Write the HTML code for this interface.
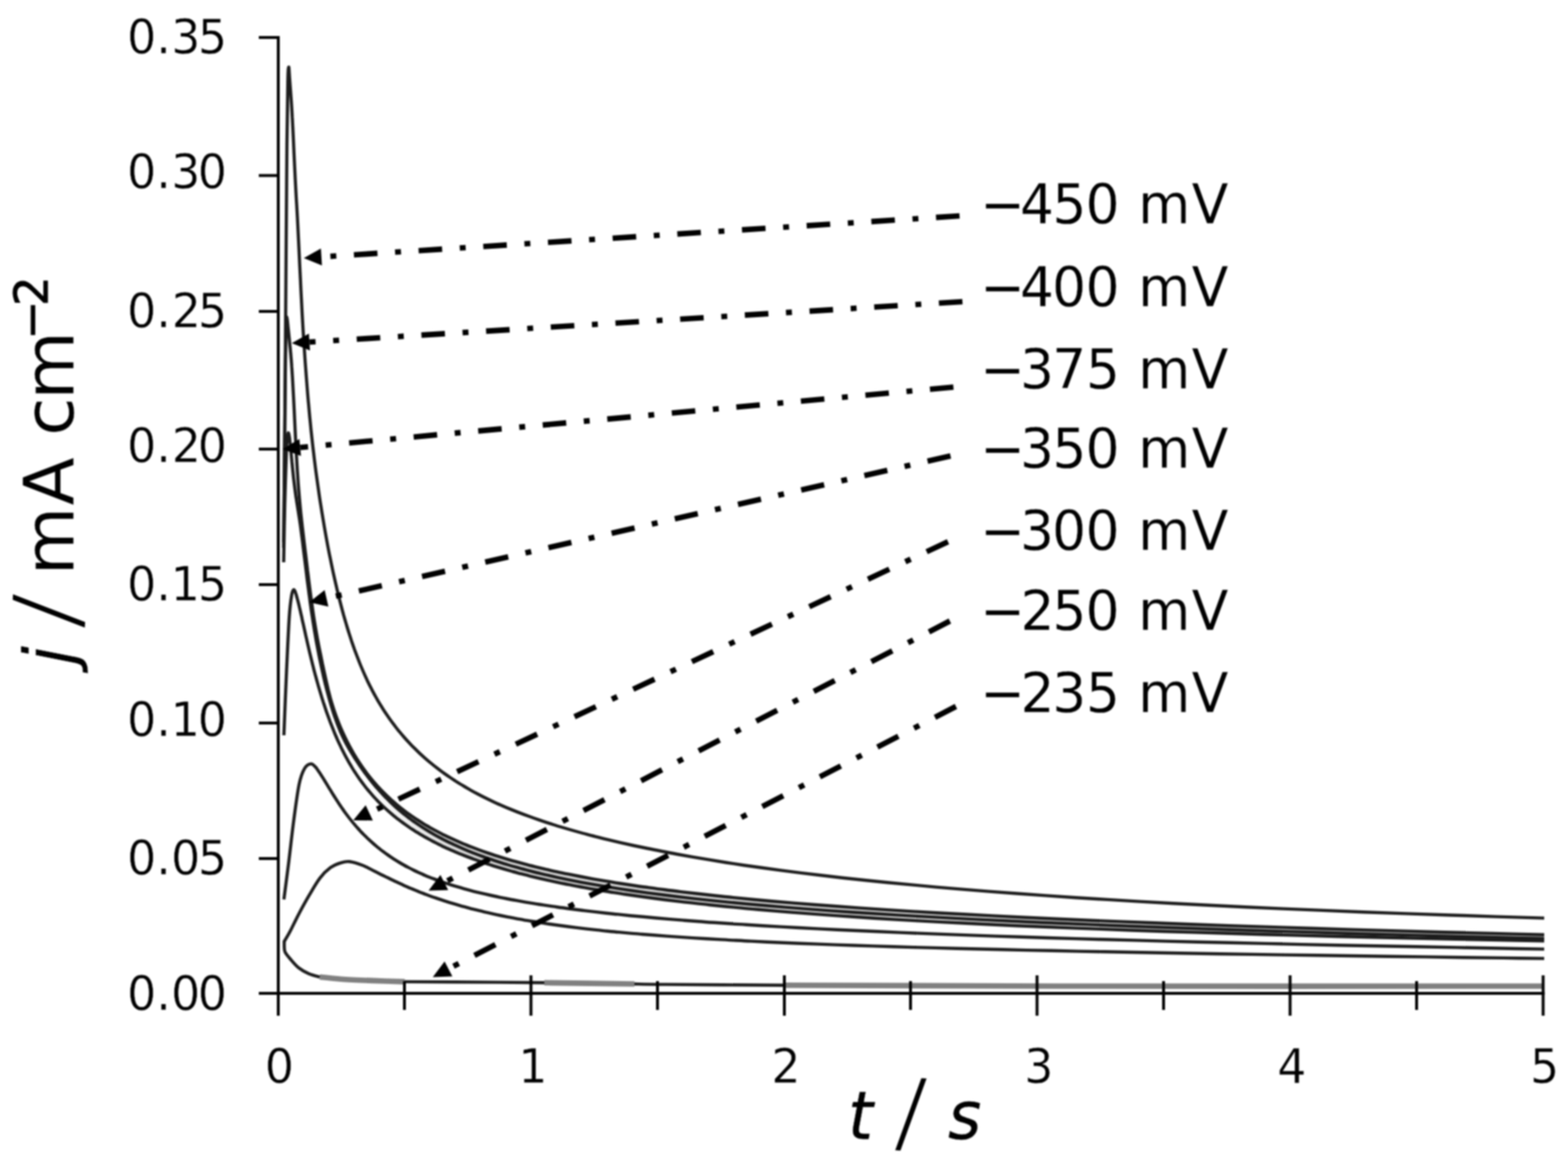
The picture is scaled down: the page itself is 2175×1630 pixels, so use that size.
<!DOCTYPE html>
<html lang="en"><head><meta charset="utf-8"><title>Current density transients</title>
<style>
html,body{margin:0;padding:0;background:#fff;}
body{width:2175px;height:1630px;overflow:hidden;}
svg{display:block;filter:blur(0.8px);}
text{font-family:'DejaVu Sans Condensed','DejaVu Sans','Liberation Sans',sans-serif;fill:#000;white-space:pre;}
.tick{font-size:67px;stroke:#fff;stroke-width:0.5px;}
.leg{font-size:77.5px;stroke:#fff;stroke-width:0.3px;}
.ttl{font-size:97px;stroke:#fff;stroke-width:0.3px;}
.ax{stroke:#000;stroke-width:4;fill:none;stroke-linecap:butt;}
.cv{stroke:#1c1c1c;stroke-width:4.4;fill:none;stroke-linejoin:round;stroke-linecap:butt;}
.cg{stroke:#808080;stroke-width:7.6;fill:none;stroke-linejoin:round;}
.dl{stroke:#000;stroke-width:7.6;fill:none;stroke-dasharray:32.7 24.5 8.2 24.5;}
.ah{fill:#000;stroke:none;}
</style></head><body>
<svg width="2175" height="1630" viewBox="0 0 2175 1630">
<rect x="0" y="0" width="2175" height="1630" fill="#fff"/>
<g id="curves">
<defs><linearGradient id="bandfade" gradientUnits="userSpaceOnUse" x1="510" y1="0" x2="640" y2="0"><stop offset="0" stop-color="#d8d8d8" stop-opacity="0"/><stop offset="1" stop-color="#d8d8d8" stop-opacity="1"/></linearGradient></defs>
<path d="M504.0 1066.1L508.9 1072.8L514.1 1079.4L519.4 1085.8L525.0 1092.0L530.8 1098.1L536.9 1104.1L543.1 1109.9L549.7 1115.6L556.5 1121.2L563.7 1126.7L571.1 1132.0L578.8 1137.2L586.9 1142.3L595.3 1147.3L604.0 1152.1L613.1 1156.9L622.6 1161.5L632.5 1166.0L642.7 1170.5L653.5 1174.8L664.6 1179.0L676.3 1183.1L688.4 1187.2L701.0 1191.1L714.2 1194.9L727.9 1198.6L742.2 1202.3L757.0 1205.9L772.5 1209.3L788.7 1212.7L805.5 1216.0L823.0 1219.3L841.2 1222.4L860.2 1225.5L880.0 1228.5L900.7 1231.4L922.2 1234.3L944.6 1237.1L967.9 1239.8L992.2 1242.5L1017.5 1245.1L1043.9 1247.7L1071.3 1250.2L1099.9 1252.6L1129.8 1255.0L1160.8 1257.3L1193.2 1259.6L1226.9 1261.9L1262.0 1264.1L1298.6 1266.2L1336.7 1268.3L1376.4 1270.4L1417.7 1272.5L1460.8 1274.5L1505.7 1276.5L1552.4 1278.4L1601.1 1280.3L1651.9 1282.2L1704.7 1284.1L1759.8 1285.9L1817.2 1287.8L1876.9 1289.6L1939.2 1291.4L2004.0 1293.2L2071.6 1294.9L2142.0 1296.7L2142.0 1305.3L2080.1 1304.1L2020.3 1302.8L1962.7 1301.6L1907.1 1300.3L1853.5 1299.0L1801.7 1297.6L1751.8 1296.2L1703.6 1294.8L1657.2 1293.4L1612.3 1292.0L1569.1 1290.5L1527.4 1288.9L1487.1 1287.4L1448.3 1285.8L1410.8 1284.2L1374.7 1282.5L1339.8 1280.8L1306.2 1279.1L1273.8 1277.4L1242.4 1275.6L1212.2 1273.7L1183.1 1271.8L1155.0 1269.9L1127.9 1267.9L1101.7 1265.9L1076.5 1263.9L1052.1 1261.8L1028.6 1259.6L1006.0 1257.5L984.1 1255.2L963.0 1252.9L942.7 1250.6L923.0 1248.2L904.1 1245.8L885.8 1243.3L868.2 1240.7L851.2 1238.1L834.8 1235.5L819.0 1232.8L803.7 1230.0L789.0 1227.2L774.8 1224.3L761.1 1221.3L747.8 1218.3L735.1 1215.3L722.8 1212.2L710.9 1209.0L699.4 1205.7L688.4 1202.4L677.7 1199.0L667.4 1195.5L657.5 1192.0L647.9 1188.4L638.7 1184.8L629.8 1181.0L621.2 1177.2L612.9 1173.4L604.9 1169.4L597.2 1165.4L589.7 1161.3L582.5 1157.1L575.6 1152.8L568.9 1148.5L562.5 1144.0L556.3 1139.5L550.2 1134.9L544.5 1130.2L538.9 1125.4L533.5 1120.5L528.3 1115.5L523.3 1110.4L518.4 1105.2L513.8 1099.9L509.2 1094.5L504.9 1089.0L500.7 1083.4Z" fill="url(#bandfade)" stroke="none"/>
<path class="cg" d="M443.6 1355.3C448.5 1355.8 460.7 1357.3 473.0 1358.2C485.3 1359.1 502.5 1359.8 517.3 1360.4C532.0 1361.0 554.1 1361.7 561.5 1361.9"/>
<path class="cg" d="M755.0 1363.3C775.8 1363.6 859.2 1364.7 880.0 1365.0"/>
<path class="cg" d="M1086.0 1366.8C1149.7 1367.0 1292.0 1367.8 1468.0 1368.0C1644.0 1368.2 2029.7 1368.0 2142.0 1368.0"/>
<path class="cv" d="M394.3 1305.0C394.3 1306.7 394.2 1312.3 394.4 1315.0C394.6 1317.7 394.3 1318.5 395.6 1321.0C396.9 1323.5 399.3 1326.4 402.4 1330.0C405.5 1333.6 409.8 1339.0 414.2 1342.5C418.6 1346.0 424.0 1348.9 428.9 1351.0C433.8 1353.1 441.2 1354.6 443.6 1355.3"/>
<path class="cv" d="M561.5 1361.9C582.9 1362.0 657.4 1362.4 689.6 1362.6C721.9 1362.8 744.1 1363.2 755.0 1363.3"/>
<path class="cv" d="M880.0 1365.0C887.3 1365.1 889.7 1365.3 924.0 1365.6C958.3 1365.9 1059.0 1366.6 1086.0 1366.8"/>
<path class="cv" d="M394.3 1306.0C395.6 1303.7 399.1 1298.3 402.4 1292.0C405.7 1285.7 409.8 1276.8 414.2 1268.4C418.6 1260.1 424.0 1250.2 428.9 1241.9C433.8 1233.6 438.7 1224.7 443.6 1218.3C448.5 1211.9 453.5 1207.2 458.4 1203.6C463.3 1200.0 468.6 1198.2 473.0 1196.8C477.4 1195.4 480.0 1194.7 484.9 1195.3C489.8 1195.9 497.1 1198.2 502.5 1200.2C507.9 1202.2 514.1 1205.9 517.3 1207.4C520.5 1209.0 520.2 1208.9 521.7 1209.6C523.2 1210.4 524.7 1211.1 526.2 1211.9C527.7 1212.6 529.3 1213.4 530.9 1214.2C532.5 1215.0 534.1 1215.8 535.7 1216.6C537.4 1217.4 539.0 1218.2 540.7 1219.0C542.4 1219.9 544.1 1220.7 545.9 1221.5C547.6 1222.4 549.4 1223.2 551.2 1224.1C553.0 1224.9 554.9 1225.8 556.7 1226.6C558.6 1227.5 560.5 1228.3 562.4 1229.2C564.4 1230.0 566.3 1230.9 568.3 1231.8C570.3 1232.6 572.3 1233.5 574.4 1234.3C576.5 1235.2 578.6 1236.1 580.7 1236.9C582.8 1237.8 585.0 1238.6 587.2 1239.4C589.4 1240.3 591.6 1241.1 593.9 1242.0C596.2 1242.8 598.5 1243.6 600.8 1244.5C603.2 1245.3 605.6 1246.1 608.0 1246.9C610.4 1247.8 612.9 1248.6 615.4 1249.4C617.9 1250.2 620.5 1251.0 623.1 1251.8C625.7 1252.6 628.3 1253.4 631.0 1254.2C633.7 1255.0 636.4 1255.8 639.2 1256.6C641.9 1257.3 644.7 1258.1 647.6 1258.9C650.5 1259.7 653.4 1260.4 656.3 1261.2C659.3 1261.9 662.3 1262.7 665.4 1263.4C668.4 1264.2 671.5 1264.9 674.7 1265.7C677.8 1266.4 681.1 1267.1 684.3 1267.8C687.6 1268.6 690.9 1269.3 694.3 1270.0C697.6 1270.7 701.1 1271.4 704.6 1272.1C708.0 1272.7 711.6 1273.4 715.2 1274.1C718.8 1274.8 722.5 1275.4 726.2 1276.1C729.9 1276.8 733.7 1277.4 737.5 1278.0C741.4 1278.7 745.3 1279.3 749.3 1279.9C753.2 1280.5 757.3 1281.2 761.4 1281.8C765.5 1282.4 769.7 1283.0 773.9 1283.5C778.2 1284.1 782.5 1284.7 786.9 1285.3C791.2 1285.8 795.7 1286.4 800.2 1286.9C804.8 1287.5 809.4 1288.0 814.1 1288.6C818.7 1289.1 823.5 1289.6 828.3 1290.1C833.2 1290.7 838.1 1291.2 843.1 1291.7C848.1 1292.2 853.2 1292.7 858.4 1293.1C863.5 1293.6 868.8 1294.1 874.1 1294.6C879.5 1295.0 884.9 1295.5 890.4 1296.0C895.9 1296.4 901.5 1296.9 907.2 1297.3C912.9 1297.7 918.7 1298.2 924.6 1298.6C930.5 1299.0 936.5 1299.5 942.6 1299.9C948.7 1300.3 954.9 1300.7 961.2 1301.1C967.5 1301.5 973.9 1301.9 980.4 1302.3C986.9 1302.7 993.5 1303.0 1000.2 1303.4C1006.9 1303.8 1013.8 1304.2 1020.7 1304.5C1027.7 1304.9 1034.7 1305.3 1041.9 1305.6C1049.1 1306.0 1056.4 1306.3 1063.8 1306.7C1071.2 1307.0 1078.7 1307.4 1086.4 1307.7C1094.1 1308.0 1101.8 1308.4 1109.8 1308.7C1117.7 1309.0 1125.7 1309.3 1133.9 1309.6C1142.1 1310.0 1150.4 1310.3 1158.9 1310.6C1167.3 1310.9 1175.9 1311.2 1184.7 1311.5C1193.4 1311.8 1202.3 1312.1 1211.3 1312.4C1220.4 1312.7 1229.5 1313.0 1238.9 1313.3C1248.2 1313.5 1257.7 1313.8 1267.3 1314.1C1277.0 1314.4 1286.8 1314.7 1296.7 1314.9C1306.7 1315.2 1316.8 1315.5 1327.1 1315.7C1337.4 1316.0 1347.9 1316.3 1358.5 1316.5C1369.2 1316.8 1380.0 1317.1 1391.0 1317.3C1402.0 1317.6 1413.2 1317.8 1424.5 1318.1C1435.9 1318.3 1447.4 1318.6 1459.2 1318.8C1470.9 1319.1 1482.9 1319.3 1495.0 1319.6C1507.1 1319.8 1519.5 1320.1 1532.0 1320.3C1544.6 1320.6 1557.3 1320.8 1570.3 1321.0C1583.2 1321.3 1596.4 1321.5 1609.8 1321.8C1623.2 1322.0 1636.8 1322.2 1650.6 1322.5C1664.5 1322.7 1678.5 1322.9 1692.8 1323.2C1707.1 1323.4 1721.7 1323.7 1736.4 1323.9C1751.2 1324.1 1766.2 1324.4 1781.5 1324.6C1796.8 1324.8 1812.3 1325.1 1828.1 1325.3C1843.9 1325.5 1859.9 1325.8 1876.2 1326.0C1892.5 1326.3 1909.1 1326.5 1925.9 1326.7C1942.8 1327.0 1959.9 1327.2 1977.3 1327.4C1994.7 1327.7 2012.4 1327.9 2030.4 1328.2C2048.4 1328.4 2066.7 1328.7 2085.3 1328.9C2103.9 1329.2 2132.5 1329.5 2142.0 1329.6"/>
<path class="cv" d="M393.8 1247.8C394.8 1239.8 397.7 1218.3 400.0 1200.0C402.3 1181.7 405.0 1156.4 407.5 1137.7C410.0 1119.0 412.5 1099.5 415.0 1087.6C417.5 1075.6 419.8 1070.7 422.5 1066.0C425.2 1061.3 428.7 1059.9 431.3 1059.6C433.9 1059.3 436.6 1063.2 438.0 1064.5C439.4 1065.7 439.2 1066.1 439.9 1067.0C440.5 1067.8 441.2 1068.8 441.8 1069.7C442.5 1070.7 443.2 1071.7 443.9 1072.7C444.5 1073.8 445.2 1074.8 445.9 1076.0C446.7 1077.1 447.4 1078.2 448.1 1079.4C448.9 1080.6 449.6 1081.8 450.4 1083.1C451.1 1084.3 451.9 1085.6 452.7 1086.9C453.5 1088.2 454.3 1089.5 455.1 1090.8C455.9 1092.2 456.8 1093.6 457.6 1094.9C458.5 1096.3 459.3 1097.7 460.2 1099.2C461.1 1100.6 462.0 1102.0 462.9 1103.5C463.8 1105.0 464.7 1106.4 465.7 1107.9C466.6 1109.4 467.6 1110.9 468.6 1112.4C469.5 1113.9 470.5 1115.4 471.5 1116.9C472.6 1118.4 473.6 1119.9 474.6 1121.4C475.7 1122.9 476.8 1124.5 477.8 1126.0C478.9 1127.5 480.0 1129.0 481.2 1130.5C482.3 1132.0 483.4 1133.5 484.6 1135.0C485.8 1136.5 487.0 1138.0 488.2 1139.5C489.4 1141.0 490.6 1142.4 491.9 1143.9C493.1 1145.4 494.4 1146.8 495.7 1148.3C497.0 1149.8 498.3 1151.2 499.7 1152.7C501.0 1154.1 502.4 1155.5 503.8 1157.0C505.2 1158.4 506.6 1159.8 508.1 1161.2C509.5 1162.6 511.0 1164.0 512.5 1165.4C514.0 1166.8 515.5 1168.2 517.0 1169.5C518.6 1170.9 520.2 1172.3 521.8 1173.6C523.4 1175.0 525.0 1176.3 526.7 1177.6C528.4 1179.0 530.1 1180.3 531.8 1181.6C533.5 1182.9 535.3 1184.1 537.1 1185.4C538.9 1186.7 540.7 1188.0 542.5 1189.2C544.4 1190.4 546.3 1191.7 548.2 1192.9C550.1 1194.1 552.1 1195.3 554.1 1196.5C556.1 1197.7 558.1 1198.9 560.2 1200.0C562.2 1201.2 564.3 1202.3 566.5 1203.4C568.6 1204.5 570.8 1205.6 573.0 1206.7C575.2 1207.8 577.5 1208.9 579.8 1210.0C582.1 1211.0 584.4 1212.1 586.8 1213.1C589.2 1214.1 591.6 1215.2 594.0 1216.2C596.5 1217.2 599.0 1218.2 601.6 1219.1C604.1 1220.1 606.7 1221.1 609.4 1222.0C612.0 1223.0 614.7 1223.9 617.5 1224.8C620.2 1225.8 623.0 1226.7 625.8 1227.6C628.7 1228.5 631.6 1229.4 634.5 1230.2C637.5 1231.1 640.5 1232.0 643.5 1232.8C646.6 1233.7 649.7 1234.5 652.8 1235.3C656.0 1236.2 659.2 1237.0 662.5 1237.8C665.8 1238.6 669.1 1239.4 672.5 1240.2C675.9 1241.0 679.3 1241.8 682.9 1242.5C686.4 1243.3 690.0 1244.1 693.6 1244.8C697.2 1245.6 701.0 1246.3 704.7 1247.0C708.5 1247.8 712.4 1248.5 716.3 1249.2C720.2 1249.9 724.2 1250.6 728.2 1251.3C732.3 1252.0 736.4 1252.7 740.6 1253.4C744.8 1254.1 749.1 1254.7 753.4 1255.4C757.8 1256.1 762.2 1256.7 766.7 1257.4C771.2 1258.0 775.8 1258.7 780.5 1259.3C785.2 1260.0 789.9 1260.6 794.8 1261.2C799.6 1261.8 804.6 1262.5 809.6 1263.1C814.6 1263.7 819.7 1264.3 824.9 1264.9C830.1 1265.5 835.4 1266.1 840.8 1266.7C846.2 1267.3 851.7 1267.9 857.3 1268.4C862.8 1269.0 868.5 1269.6 874.3 1270.2C880.1 1270.7 886.0 1271.3 892.0 1271.8C898.0 1272.4 904.1 1272.9 910.3 1273.5C916.5 1274.0 922.8 1274.6 929.3 1275.1C935.7 1275.6 942.3 1276.2 948.9 1276.7C955.6 1277.2 962.4 1277.7 969.3 1278.2C976.2 1278.8 983.3 1279.3 990.4 1279.8C997.6 1280.3 1004.9 1280.8 1012.3 1281.3C1019.7 1281.8 1027.3 1282.3 1035.0 1282.7C1042.6 1283.2 1050.5 1283.7 1058.4 1284.2C1066.4 1284.7 1074.5 1285.1 1082.8 1285.6C1091.0 1286.1 1099.4 1286.5 1108.0 1287.0C1116.6 1287.5 1125.3 1287.9 1134.1 1288.4C1143.0 1288.8 1152.0 1289.3 1161.2 1289.7C1170.4 1290.2 1179.7 1290.6 1189.3 1291.0C1198.8 1291.5 1208.5 1291.9 1218.3 1292.3C1228.2 1292.8 1238.2 1293.2 1248.4 1293.6C1258.7 1294.0 1269.1 1294.5 1279.7 1294.9C1290.3 1295.3 1301.0 1295.7 1312.0 1296.1C1323.0 1296.5 1334.1 1297.0 1345.5 1297.4C1356.9 1297.8 1368.5 1298.2 1380.2 1298.6C1392.0 1299.0 1404.0 1299.4 1416.2 1299.8C1428.4 1300.2 1440.9 1300.6 1453.5 1301.0C1466.2 1301.4 1479.0 1301.7 1492.1 1302.1C1505.2 1302.5 1518.6 1302.9 1532.2 1303.3C1545.8 1303.7 1559.6 1304.1 1573.7 1304.4C1587.7 1304.8 1602.0 1305.2 1616.6 1305.6C1631.2 1306.0 1646.1 1306.3 1661.2 1306.7C1676.3 1307.1 1691.7 1307.5 1707.3 1307.8C1723.0 1308.2 1738.9 1308.6 1755.1 1308.9C1771.4 1309.3 1787.9 1309.7 1804.7 1310.1C1821.5 1310.4 1838.6 1310.8 1856.0 1311.2C1873.5 1311.5 1891.2 1311.9 1909.2 1312.3C1927.3 1312.6 1945.7 1313.0 1964.4 1313.3C1983.1 1313.7 2002.1 1314.1 2021.5 1314.4C2040.9 1314.8 2060.6 1315.2 2080.7 1315.5C2100.8 1315.9 2131.8 1316.4 2142.0 1316.6"/>
<path class="cv" d="M393.8 1020.0C394.4 1005.0 396.2 957.5 397.5 930.0C398.8 902.5 400.1 872.3 401.3 855.0C402.5 837.7 403.5 832.2 404.5 826.0C405.5 819.8 406.5 818.4 407.5 818.0C408.5 817.6 409.9 822.3 410.5 823.8C411.1 825.2 411.1 825.7 411.4 826.8C411.7 827.9 412.0 829.0 412.3 830.2C412.6 831.3 413.0 832.6 413.3 833.9C413.6 835.1 413.9 836.5 414.3 837.9C414.6 839.3 415.0 840.7 415.3 842.2C415.7 843.7 416.0 845.2 416.4 846.8C416.8 848.4 417.1 850.0 417.5 851.7C417.9 853.4 418.3 855.1 418.7 856.8C419.0 858.6 419.4 860.4 419.8 862.2C420.2 864.0 420.7 865.9 421.1 867.8C421.5 869.7 421.9 871.6 422.4 873.6C422.8 875.5 423.2 877.5 423.7 879.6C424.1 881.6 424.6 883.6 425.1 885.7C425.5 887.8 426.0 889.9 426.5 892.0C427.0 894.1 427.5 896.3 428.0 898.4C428.5 900.6 429.0 902.8 429.5 905.0C430.0 907.2 430.6 909.4 431.1 911.6C431.6 913.9 432.2 916.1 432.8 918.4C433.3 920.6 433.9 922.9 434.5 925.2C435.0 927.4 435.6 929.7 436.2 932.0C436.8 934.3 437.4 936.6 438.1 938.9C438.7 941.2 439.3 943.5 440.0 945.8C440.6 948.1 441.3 950.4 441.9 952.7C442.6 955.1 443.3 957.4 444.0 959.7C444.7 962.0 445.4 964.3 446.1 966.6C446.8 969.0 447.6 971.3 448.3 973.6C449.1 975.9 449.8 978.2 450.6 980.5C451.4 982.8 452.1 985.2 452.9 987.5C453.7 989.8 454.6 992.1 455.4 994.3C456.2 996.6 457.1 998.9 457.9 1001.2C458.8 1003.5 459.7 1005.7 460.6 1008.0C461.5 1010.3 462.4 1012.5 463.3 1014.8C464.2 1017.0 465.1 1019.2 466.1 1021.5C467.1 1023.7 468.0 1025.9 469.0 1028.1C470.0 1030.3 471.0 1032.5 472.1 1034.6C473.1 1036.8 474.1 1039.0 475.2 1041.1C476.3 1043.2 477.4 1045.4 478.5 1047.5C479.6 1049.6 480.7 1051.7 481.9 1053.7C483.0 1055.8 484.2 1057.9 485.4 1059.9C486.6 1061.9 487.8 1064.0 489.0 1066.0C490.2 1068.0 491.5 1069.9 492.8 1071.9C494.0 1073.8 495.3 1075.8 496.7 1077.7C498.0 1079.6 499.3 1081.5 500.7 1083.4C502.1 1085.3 503.5 1087.2 504.9 1089.0C506.3 1090.9 507.8 1092.7 509.2 1094.5C510.7 1096.3 512.2 1098.1 513.8 1099.9C515.3 1101.7 516.8 1103.5 518.4 1105.2C520.0 1106.9 521.6 1108.7 523.3 1110.4C524.9 1112.1 526.6 1113.8 528.3 1115.5C530.0 1117.2 531.7 1118.8 533.5 1120.5C535.2 1122.1 537.0 1123.7 538.9 1125.4C540.7 1127.0 542.6 1128.6 544.5 1130.2C546.4 1131.7 548.3 1133.3 550.2 1134.9C552.2 1136.4 554.2 1138.0 556.3 1139.5C558.3 1141.0 560.4 1142.5 562.5 1144.0C564.6 1145.5 566.7 1147.0 568.9 1148.5C571.1 1149.9 573.3 1151.4 575.6 1152.8C577.9 1154.2 580.2 1155.7 582.5 1157.1C584.9 1158.5 587.3 1159.9 589.7 1161.3C592.2 1162.6 594.6 1164.0 597.2 1165.4C599.7 1166.7 602.3 1168.1 604.9 1169.4C607.5 1170.7 610.2 1172.0 612.9 1173.4C615.6 1174.7 618.4 1175.9 621.2 1177.2C624.0 1178.5 626.9 1179.8 629.8 1181.0C632.7 1182.3 635.7 1183.5 638.7 1184.8C641.7 1186.0 644.8 1187.2 647.9 1188.4C651.1 1189.6 654.3 1190.8 657.5 1192.0C660.8 1193.2 664.1 1194.4 667.4 1195.5C670.8 1196.7 674.2 1197.9 677.7 1199.0C681.2 1200.1 684.8 1201.3 688.4 1202.4C692.0 1203.5 695.7 1204.6 699.4 1205.7C703.2 1206.8 707.0 1207.9 710.9 1209.0C714.8 1210.0 718.7 1211.1 722.8 1212.2C726.8 1213.2 730.9 1214.2 735.1 1215.3C739.3 1216.3 743.5 1217.3 747.8 1218.3C752.2 1219.4 756.6 1220.4 761.1 1221.3C765.5 1222.3 770.1 1223.3 774.8 1224.3C779.4 1225.3 784.2 1226.2 789.0 1227.2C793.8 1228.1 798.7 1229.1 803.7 1230.0C808.7 1230.9 813.8 1231.9 819.0 1232.8C824.2 1233.7 829.4 1234.6 834.8 1235.5C840.2 1236.4 845.6 1237.3 851.2 1238.1C856.8 1239.0 862.4 1239.9 868.2 1240.7C874.0 1241.6 879.9 1242.4 885.8 1243.3C891.8 1244.1 897.9 1244.9 904.1 1245.8C910.3 1246.6 916.6 1247.4 923.0 1248.2C929.5 1249.0 936.0 1249.8 942.7 1250.6C949.3 1251.4 956.1 1252.2 963.0 1252.9C969.9 1253.7 977.0 1254.5 984.1 1255.2C991.3 1256.0 998.6 1256.7 1006.0 1257.5C1013.4 1258.2 1021.0 1258.9 1028.6 1259.6C1036.3 1260.4 1044.2 1261.1 1052.1 1261.8C1060.1 1262.5 1068.2 1263.2 1076.5 1263.9C1084.7 1264.6 1093.2 1265.3 1101.7 1265.9C1110.3 1266.6 1119.0 1267.3 1127.9 1267.9C1136.8 1268.6 1145.8 1269.3 1155.0 1269.9C1164.2 1270.6 1173.6 1271.2 1183.1 1271.8C1192.6 1272.5 1202.4 1273.1 1212.2 1273.7C1222.1 1274.3 1232.2 1275.0 1242.4 1275.6C1252.7 1276.2 1263.1 1276.8 1273.8 1277.4C1284.4 1278.0 1295.2 1278.5 1306.2 1279.1C1317.2 1279.7 1328.4 1280.3 1339.8 1280.8C1351.3 1281.4 1362.9 1282.0 1374.7 1282.5C1386.5 1283.1 1398.6 1283.6 1410.8 1284.2C1423.1 1284.7 1435.6 1285.3 1448.3 1285.8C1461.0 1286.3 1473.9 1286.9 1487.1 1287.4C1500.3 1287.9 1513.7 1288.4 1527.4 1288.9C1541.0 1289.5 1554.9 1290.0 1569.1 1290.5C1583.3 1291.0 1597.7 1291.5 1612.3 1292.0C1627.0 1292.4 1642.0 1292.9 1657.2 1293.4C1672.4 1293.9 1687.9 1294.4 1703.6 1294.8C1719.4 1295.3 1735.4 1295.8 1751.8 1296.2C1768.1 1296.7 1784.8 1297.2 1801.7 1297.6C1818.7 1298.1 1835.9 1298.5 1853.5 1299.0C1871.0 1299.4 1888.9 1299.8 1907.1 1300.3C1925.3 1300.7 1943.8 1301.1 1962.7 1301.6C1981.6 1302.0 2000.8 1302.4 2020.3 1302.8C2039.9 1303.3 2059.8 1303.7 2080.1 1304.1C2100.4 1304.5 2131.7 1305.1 2142.0 1305.3"/>
<path class="cv" d="M393.5 780.0C393.8 766.7 394.3 726.7 395.0 700.0C395.7 673.3 396.8 636.2 397.5 620.0C398.2 603.8 398.7 606.2 399.2 603.0C399.7 599.8 399.9 600.4 400.3 601.0C400.7 601.6 401.2 604.9 401.5 606.7C401.8 608.5 401.9 610.0 402.1 611.9C402.3 613.7 402.6 615.8 402.8 618.0C403.0 620.2 403.2 622.6 403.5 625.0C403.7 627.4 403.9 629.9 404.2 632.5C404.4 635.1 404.7 637.7 404.9 640.4C405.2 643.0 405.4 645.7 405.7 648.4C405.9 651.0 406.2 653.7 406.5 656.3C406.7 658.9 407.0 661.4 407.3 664.0C407.6 666.5 407.9 669.0 408.2 671.4C408.5 673.9 408.8 676.3 409.1 678.6C409.4 680.9 409.7 683.2 410.0 685.5C410.3 687.7 410.6 689.9 411.0 692.0C411.3 694.2 411.6 696.3 412.0 698.5C412.3 700.7 412.7 702.8 413.0 705.0C413.4 707.3 413.8 709.5 414.1 711.9C414.5 714.3 414.9 716.7 415.3 719.3C415.7 721.9 416.1 724.6 416.5 727.4C416.9 730.3 417.3 733.3 417.7 736.5C418.1 739.7 418.5 743.0 419.0 746.4C419.4 749.9 419.9 753.4 420.3 757.1C420.8 760.8 421.2 764.5 421.7 768.4C422.2 772.2 422.7 776.2 423.2 780.2C423.7 784.2 424.2 788.3 424.7 792.4C425.2 796.6 425.7 800.8 426.2 805.0C426.8 809.2 427.3 813.4 427.9 817.7C428.4 821.9 429.0 826.2 429.6 830.4C430.1 834.7 430.7 838.9 431.3 843.1C431.9 847.3 432.5 851.5 433.2 855.7C433.8 859.8 434.4 863.9 435.1 867.9C435.7 872.0 436.4 876.0 437.1 879.9C437.8 883.9 438.4 887.8 439.1 891.7C439.8 895.5 440.6 899.4 441.3 903.2C442.0 906.9 442.8 910.7 443.5 914.4C444.3 918.2 445.1 921.9 445.9 925.5C446.7 929.2 447.5 932.8 448.3 936.4C449.1 940.0 450.0 943.6 450.8 947.1C451.7 950.7 452.6 954.2 453.5 957.6C454.4 961.1 455.3 964.5 456.2 967.8C457.1 971.2 458.1 974.5 459.0 977.7C460.0 981.0 461.0 984.1 462.0 987.3C463.0 990.4 464.0 993.4 465.1 996.4C466.1 999.4 467.2 1002.4 468.3 1005.2C469.4 1008.0 470.5 1010.8 471.6 1013.5C472.8 1016.2 473.9 1018.8 475.1 1021.3C476.3 1023.9 477.5 1026.3 478.7 1028.7C479.9 1031.1 481.2 1033.4 482.5 1035.7C483.7 1038.0 485.1 1040.2 486.4 1042.4C487.7 1044.7 489.1 1046.9 490.5 1049.1C491.8 1051.3 493.2 1053.4 494.7 1055.6C496.1 1057.8 497.6 1060.0 499.1 1062.2C500.6 1064.4 502.1 1066.6 503.7 1068.7C505.2 1070.9 506.8 1073.1 508.5 1075.2C510.1 1077.4 511.7 1079.5 513.4 1081.6C515.1 1083.8 516.8 1085.9 518.6 1088.0C520.3 1090.1 522.1 1092.2 524.0 1094.3C525.8 1096.4 527.7 1098.5 529.6 1100.5C531.5 1102.6 533.4 1104.6 535.4 1106.6C537.4 1108.7 539.4 1110.7 541.4 1112.6C543.5 1114.6 545.6 1116.6 547.7 1118.5C549.9 1120.5 552.1 1122.4 554.3 1124.3C556.5 1126.2 558.8 1128.1 561.1 1129.9C563.4 1131.8 565.8 1133.6 568.2 1135.4C570.6 1137.3 573.1 1139.0 575.6 1140.8C578.1 1142.6 580.7 1144.3 583.3 1146.0C585.9 1147.8 588.6 1149.5 591.3 1151.1C594.0 1152.8 596.8 1154.5 599.6 1156.1C602.4 1157.8 605.3 1159.4 608.3 1161.0C611.2 1162.6 614.2 1164.2 617.3 1165.7C620.4 1167.3 623.5 1168.8 626.7 1170.3C629.9 1171.9 633.1 1173.3 636.4 1174.8C639.7 1176.3 643.1 1177.8 646.6 1179.2C650.0 1180.7 653.6 1182.1 657.1 1183.5C660.7 1184.9 664.4 1186.3 668.1 1187.6C671.9 1189.0 675.7 1190.4 679.6 1191.7C683.5 1193.0 687.4 1194.4 691.5 1195.7C695.5 1197.0 699.7 1198.2 703.9 1199.5C708.1 1200.8 712.4 1202.0 716.8 1203.2C721.1 1204.5 725.6 1205.7 730.2 1206.9C734.7 1208.1 739.4 1209.3 744.1 1210.5C748.9 1211.6 753.7 1212.8 758.7 1213.9C763.6 1215.1 768.6 1216.2 773.8 1217.3C778.9 1218.4 784.1 1219.5 789.5 1220.6C794.8 1221.6 800.3 1222.7 805.8 1223.8C811.4 1224.8 817.1 1225.9 822.9 1226.9C828.7 1227.9 834.6 1228.9 840.6 1229.9C846.6 1230.9 852.7 1231.9 859.0 1232.9C865.3 1233.8 871.7 1234.8 878.2 1235.7C884.7 1236.7 891.4 1237.6 898.2 1238.6C904.9 1239.5 911.9 1240.4 918.9 1241.3C926.0 1242.2 933.2 1243.1 940.5 1244.0C947.9 1244.8 955.4 1245.7 963.0 1246.6C970.7 1247.4 978.5 1248.3 986.4 1249.1C994.4 1249.9 1002.5 1250.7 1010.8 1251.6C1019.0 1252.4 1027.5 1253.2 1036.1 1254.0C1044.7 1254.8 1053.5 1255.6 1062.4 1256.3C1071.4 1257.1 1080.5 1257.9 1089.9 1258.6C1099.2 1259.4 1108.7 1260.1 1118.4 1260.9C1128.1 1261.6 1138.0 1262.4 1148.1 1263.1C1158.2 1263.8 1168.5 1264.5 1179.0 1265.2C1189.5 1265.9 1200.2 1266.6 1211.2 1267.3C1222.1 1268.0 1233.3 1268.7 1244.6 1269.4C1256.0 1270.1 1267.6 1270.8 1279.4 1271.4C1291.3 1272.1 1303.4 1272.8 1315.7 1273.4C1328.0 1274.1 1340.5 1274.7 1353.4 1275.4C1366.2 1276.0 1379.3 1276.6 1392.6 1277.3C1405.9 1277.9 1419.5 1278.5 1433.4 1279.2C1447.3 1279.8 1461.4 1280.4 1475.9 1281.0C1490.3 1281.6 1505.0 1282.3 1520.1 1282.9C1535.1 1283.5 1550.4 1284.1 1566.1 1284.7C1581.7 1285.3 1597.6 1285.9 1613.9 1286.5C1630.2 1287.0 1646.8 1287.6 1663.7 1288.2C1680.6 1288.8 1697.9 1289.4 1715.5 1290.0C1733.1 1290.6 1751.1 1291.1 1769.4 1291.7C1787.7 1292.3 1806.4 1292.9 1825.5 1293.4C1844.6 1294.0 1864.0 1294.6 1883.9 1295.2C1903.7 1295.7 1924.0 1296.3 1944.6 1296.9C1965.3 1297.4 1986.3 1298.0 2007.8 1298.6C2029.3 1299.2 2051.2 1299.7 2073.6 1300.3C2095.9 1300.9 2130.6 1301.7 2142.0 1302.0"/>
<path class="cv" d="M393.5 760.0C393.7 741.7 394.1 693.3 394.5 650.0C394.9 606.7 395.5 534.0 396.0 500.0C396.5 466.0 396.9 455.7 397.3 446.0C397.7 436.3 397.8 440.8 398.2 442.0C398.6 443.2 399.2 450.7 399.5 453.5C399.8 456.3 399.9 457.0 400.1 458.8C400.3 460.7 400.5 462.5 400.7 464.5C400.9 466.4 401.1 468.4 401.3 470.4C401.5 472.5 401.7 474.5 401.9 476.7C402.1 478.8 402.3 481.0 402.6 483.3C402.8 485.6 403.0 488.0 403.3 490.6C403.5 493.2 403.7 496.0 404.0 499.0C404.2 502.1 404.5 505.3 404.7 508.9C405.0 512.6 405.2 516.5 405.5 520.8C405.8 525.2 406.0 530.0 406.3 535.1C406.6 540.2 406.9 545.7 407.2 551.5C407.5 557.2 407.8 563.3 408.1 569.4C408.4 575.6 408.7 582.0 409.0 588.4C409.3 594.7 409.6 601.3 409.9 607.7C410.3 614.1 410.6 620.6 410.9 626.8C411.3 633.0 411.6 639.2 412.0 645.1C412.3 651.0 412.7 656.7 413.1 662.1C413.4 667.5 413.8 672.6 414.2 677.5C414.6 682.5 415.0 687.2 415.4 691.7C415.8 696.3 416.2 700.6 416.6 704.9C417.0 709.2 417.4 713.3 417.9 717.4C418.3 721.5 418.8 725.4 419.2 729.4C419.7 733.4 420.1 737.3 420.6 741.3C421.1 745.2 421.5 749.2 422.0 753.2C422.5 757.3 423.0 761.3 423.5 765.5C424.1 769.7 424.6 774.0 425.1 778.5C425.6 782.9 426.2 787.4 426.7 792.0C427.3 796.5 427.9 801.2 428.4 805.9C429.0 810.5 429.6 815.2 430.2 819.9C430.8 824.6 431.4 829.3 432.1 833.9C432.7 838.5 433.3 843.1 434.0 847.6C434.6 852.0 435.3 856.5 436.0 860.8C436.7 865.0 437.4 869.2 438.1 873.3C438.8 877.4 439.5 881.5 440.2 885.4C441.0 889.4 441.7 893.3 442.5 897.3C443.3 901.2 444.1 905.1 444.9 909.0C445.7 912.9 446.5 916.9 447.3 920.9C448.2 924.8 449.0 928.9 449.9 932.9C450.8 937.0 451.7 941.1 452.6 945.2C453.5 949.2 454.4 953.2 455.3 957.1C456.3 960.9 457.3 964.7 458.2 968.3C459.2 971.9 460.2 975.3 461.3 978.7C462.3 982.0 463.3 985.2 464.4 988.3C465.5 991.5 466.6 994.5 467.7 997.4C468.8 1000.4 469.9 1003.2 471.1 1006.0C472.2 1008.8 473.4 1011.5 474.6 1014.2C475.8 1016.9 477.1 1019.6 478.3 1022.2C479.6 1024.9 480.9 1027.4 482.2 1030.0C483.5 1032.6 484.8 1035.1 486.2 1037.6C487.6 1040.1 489.0 1042.5 490.4 1045.0C491.8 1047.4 493.3 1049.8 494.7 1052.2C496.2 1054.6 497.7 1056.9 499.3 1059.2C500.8 1061.6 502.4 1063.9 504.0 1066.1C505.6 1068.4 507.3 1070.6 508.9 1072.8C510.6 1075.0 512.3 1077.2 514.1 1079.4C515.8 1081.5 517.6 1083.7 519.4 1085.8C521.2 1087.9 523.1 1089.9 525.0 1092.0C526.9 1094.1 528.8 1096.1 530.8 1098.1C532.8 1100.1 534.8 1102.1 536.9 1104.1C538.9 1106.0 541.0 1108.0 543.1 1109.9C545.3 1111.8 547.5 1113.7 549.7 1115.6C551.9 1117.5 554.2 1119.4 556.5 1121.2C558.9 1123.0 561.2 1124.9 563.7 1126.7C566.1 1128.5 568.6 1130.2 571.1 1132.0C573.6 1133.7 576.2 1135.5 578.8 1137.2C581.4 1138.9 584.1 1140.6 586.9 1142.3C589.6 1144.0 592.4 1145.6 595.3 1147.3C598.1 1148.9 601.0 1150.5 604.0 1152.1C607.0 1153.7 610.0 1155.3 613.1 1156.9C616.2 1158.4 619.4 1160.0 622.6 1161.5C625.8 1163.0 629.1 1164.6 632.5 1166.0C635.8 1167.5 639.2 1169.0 642.7 1170.5C646.3 1171.9 649.8 1173.4 653.5 1174.8C657.1 1176.2 660.8 1177.6 664.6 1179.0C668.4 1180.4 672.3 1181.8 676.3 1183.1C680.2 1184.5 684.3 1185.8 688.4 1187.2C692.5 1188.5 696.7 1189.8 701.0 1191.1C705.3 1192.4 709.7 1193.6 714.2 1194.9C718.7 1196.2 723.2 1197.4 727.9 1198.6C732.5 1199.9 737.3 1201.1 742.2 1202.3C747.0 1203.5 752.0 1204.7 757.0 1205.9C762.1 1207.0 767.2 1208.2 772.5 1209.3C777.8 1210.5 783.2 1211.6 788.7 1212.7C794.2 1213.8 799.8 1214.9 805.5 1216.0C811.2 1217.1 817.0 1218.2 823.0 1219.3C828.9 1220.3 835.0 1221.4 841.2 1222.4C847.4 1223.5 853.8 1224.5 860.2 1225.5C866.7 1226.5 873.3 1227.5 880.0 1228.5C886.8 1229.5 893.7 1230.5 900.7 1231.4C907.7 1232.4 914.9 1233.4 922.2 1234.3C929.5 1235.3 936.9 1236.2 944.6 1237.1C952.2 1238.0 959.9 1238.9 967.9 1239.8C975.8 1240.7 983.9 1241.6 992.2 1242.5C1000.4 1243.4 1008.9 1244.3 1017.5 1245.1C1026.1 1246.0 1034.9 1246.8 1043.9 1247.7C1052.8 1248.5 1062.0 1249.3 1071.3 1250.2C1080.7 1251.0 1090.2 1251.8 1099.9 1252.6C1109.7 1253.4 1119.6 1254.2 1129.8 1255.0C1139.9 1255.8 1150.2 1256.6 1160.8 1257.3C1171.4 1258.1 1182.2 1258.9 1193.2 1259.6C1204.2 1260.4 1215.4 1261.1 1226.9 1261.9C1238.3 1262.6 1250.0 1263.3 1262.0 1264.1C1273.9 1264.8 1286.1 1265.5 1298.6 1266.2C1311.0 1266.9 1323.7 1267.6 1336.7 1268.3C1349.6 1269.0 1362.9 1269.7 1376.4 1270.4C1389.9 1271.1 1403.6 1271.8 1417.7 1272.5C1431.8 1273.1 1446.1 1273.8 1460.8 1274.5C1475.5 1275.1 1490.4 1275.8 1505.7 1276.5C1521.0 1277.1 1536.5 1277.8 1552.4 1278.4C1568.3 1279.0 1584.6 1279.7 1601.1 1280.3C1617.7 1281.0 1634.6 1281.6 1651.9 1282.2C1669.2 1282.8 1686.8 1283.5 1704.7 1284.1C1722.7 1284.7 1741.1 1285.3 1759.8 1285.9C1778.5 1286.5 1797.7 1287.2 1817.2 1287.8C1836.7 1288.4 1856.6 1289.0 1876.9 1289.6C1897.3 1290.2 1918.0 1290.8 1939.2 1291.4C1960.4 1292.0 1982.0 1292.6 2004.0 1293.2C2026.1 1293.7 2048.6 1294.3 2071.6 1294.9C2094.6 1295.5 2130.3 1296.4 2142.0 1296.7"/>
<path class="cv" d="M393.5 752.0C393.8 726.7 394.5 658.7 395.0 600.0C395.5 541.3 396.0 466.7 396.5 400.0C397.0 333.3 397.5 248.0 398.0 200.0C398.5 152.0 398.9 129.8 399.3 112.0C399.7 94.2 400.1 93.3 400.5 93.0C400.9 92.7 401.2 102.3 401.8 110.0C402.4 117.7 403.5 132.6 404.0 139.3C404.5 146.0 404.5 146.2 404.7 150.1C404.9 154.0 405.2 158.2 405.4 162.7C405.7 167.2 405.9 172.1 406.2 177.4C406.5 182.6 406.7 188.4 407.0 194.2C407.3 200.0 407.5 206.2 407.8 212.4C408.1 218.5 408.4 224.9 408.7 231.1C409.0 237.3 409.3 243.5 409.6 249.5C409.9 255.4 410.2 261.1 410.5 266.7C410.8 272.3 411.1 277.6 411.5 283.3C411.8 289.0 412.1 294.7 412.5 301.0C412.8 307.2 413.1 314.0 413.5 321.0C413.8 328.0 414.2 335.6 414.6 343.2C414.9 350.8 415.3 358.8 415.7 366.8C416.1 374.7 416.5 382.9 416.9 391.0C417.2 399.0 417.7 407.2 418.1 415.1C418.5 423.0 418.9 430.8 419.3 438.4C419.7 446.0 420.2 453.4 420.6 460.8C421.1 468.1 421.5 475.2 422.0 482.2C422.5 489.2 422.9 496.1 423.4 502.9C423.9 509.6 424.4 516.2 424.9 522.7C425.4 529.2 425.9 535.6 426.4 541.8C426.9 548.1 427.4 554.2 428.0 560.2C428.5 566.2 429.1 572.2 429.6 578.0C430.2 583.8 430.8 589.5 431.3 595.2C431.9 600.8 432.5 606.3 433.1 611.8C433.7 617.3 434.3 622.7 435.0 628.0C435.6 633.3 436.2 638.5 436.9 643.7C437.5 648.9 438.2 654.0 438.9 659.1C439.6 664.1 440.3 669.1 441.0 674.1C441.7 679.1 442.4 684.0 443.1 688.9C443.8 693.7 444.6 698.6 445.4 703.4C446.1 708.2 446.9 713.0 447.7 717.7C448.5 722.5 449.3 727.3 450.1 732.0C450.9 736.7 451.8 741.4 452.6 746.1C453.5 750.8 454.3 755.5 455.2 760.1C456.1 764.7 457.0 769.4 458.0 773.9C458.9 778.5 459.8 783.1 460.8 787.6C461.7 792.2 462.7 796.7 463.7 801.1C464.7 805.6 465.7 810.0 466.8 814.4C467.8 818.9 468.9 823.2 469.9 827.6C471.0 831.9 472.1 836.2 473.2 840.4C474.3 844.7 475.5 848.9 476.6 853.1C477.8 857.2 479.0 861.4 480.2 865.5C481.4 869.5 482.6 873.6 483.9 877.6C485.2 881.6 486.4 885.5 487.7 889.4C489.1 893.3 490.4 897.1 491.7 900.9C493.1 904.7 494.5 908.4 495.9 912.1C497.3 915.8 498.7 919.4 500.2 923.0C501.7 926.5 503.2 930.0 504.7 933.5C506.2 936.9 507.8 940.3 509.3 943.7C510.9 947.0 512.5 950.3 514.2 953.5C515.8 956.8 517.5 960.0 519.2 963.1C520.9 966.2 522.7 969.3 524.4 972.4C526.2 975.4 528.0 978.4 529.9 981.3C531.7 984.3 533.6 987.2 535.5 990.0C537.4 992.9 539.4 995.7 541.4 998.5C543.4 1001.3 545.4 1004.0 547.5 1006.7C549.5 1009.4 551.7 1012.1 553.8 1014.7C556.0 1017.3 558.2 1019.9 560.4 1022.5C562.6 1025.0 564.9 1027.6 567.2 1030.0C569.6 1032.5 571.9 1035.0 574.4 1037.4C576.8 1039.8 579.2 1042.2 581.7 1044.6C584.3 1047.0 586.8 1049.3 589.4 1051.6C592.0 1053.9 594.7 1056.2 597.4 1058.4C600.1 1060.7 602.9 1062.9 605.7 1065.0C608.5 1067.2 611.4 1069.4 614.3 1071.5C617.3 1073.6 620.2 1075.7 623.3 1077.8C626.3 1079.9 629.4 1081.9 632.6 1084.0C635.8 1086.0 639.0 1088.0 642.3 1089.9C645.6 1091.9 648.9 1093.9 652.3 1095.8C655.7 1097.7 659.2 1099.6 662.8 1101.5C666.3 1103.3 670.0 1105.2 673.6 1107.0C677.3 1108.8 681.1 1110.6 684.9 1112.4C688.8 1114.2 692.7 1116.0 696.7 1117.7C700.6 1119.5 704.7 1121.2 708.9 1122.9C713.0 1124.6 717.2 1126.3 721.5 1127.9C725.8 1129.6 730.2 1131.2 734.7 1132.8C739.2 1134.5 743.7 1136.1 748.4 1137.7C753.0 1139.3 757.8 1140.8 762.6 1142.4C767.4 1143.9 772.3 1145.5 777.4 1147.0C782.4 1148.5 787.5 1150.0 792.7 1151.5C797.9 1153.0 803.3 1154.5 808.7 1156.0C814.1 1157.4 819.6 1158.9 825.3 1160.3C830.9 1161.8 836.7 1163.2 842.5 1164.6C848.4 1166.0 854.3 1167.4 860.4 1168.8C866.5 1170.2 872.7 1171.6 879.0 1173.0C885.4 1174.3 891.8 1175.7 898.4 1177.0C905.0 1178.4 911.7 1179.7 918.5 1181.0C925.3 1182.4 932.3 1183.7 939.4 1185.0C946.5 1186.3 953.7 1187.6 961.1 1188.9C968.5 1190.2 976.0 1191.4 983.7 1192.7C991.3 1194.0 999.2 1195.2 1007.1 1196.5C1015.1 1197.7 1023.2 1198.9 1031.5 1200.2C1039.8 1201.4 1048.2 1202.6 1056.8 1203.8C1065.4 1205.0 1074.2 1206.2 1083.2 1207.4C1092.1 1208.5 1101.2 1209.7 1110.5 1210.9C1119.8 1212.0 1129.3 1213.2 1138.9 1214.3C1148.6 1215.5 1158.5 1216.6 1168.5 1217.7C1178.5 1218.8 1188.8 1219.9 1199.2 1221.0C1209.6 1222.1 1220.3 1223.2 1231.1 1224.3C1242.0 1225.3 1253.0 1226.4 1264.3 1227.4C1275.5 1228.5 1287.0 1229.5 1298.7 1230.6C1310.5 1231.6 1322.4 1232.6 1334.6 1233.6C1346.7 1234.6 1359.1 1235.6 1371.8 1236.6C1384.4 1237.6 1397.3 1238.6 1410.5 1239.5C1423.6 1240.5 1437.0 1241.5 1450.7 1242.4C1464.3 1243.3 1478.2 1244.3 1492.4 1245.2C1506.6 1246.1 1521.1 1247.0 1535.9 1247.9C1550.6 1248.8 1565.6 1249.7 1581.0 1250.6C1596.3 1251.5 1611.9 1252.3 1627.9 1253.2C1643.8 1254.0 1660.0 1254.9 1676.6 1255.7C1693.2 1256.6 1710.0 1257.4 1727.2 1258.2C1744.5 1259.0 1762.0 1259.8 1779.9 1260.6C1797.8 1261.4 1816.0 1262.2 1834.6 1262.9C1853.2 1263.7 1872.1 1264.4 1891.4 1265.2C1910.7 1265.9 1930.4 1266.7 1950.5 1267.4C1970.6 1268.1 1991.0 1268.8 2011.9 1269.5C2032.8 1270.2 2054.0 1270.9 2075.7 1271.6C2097.4 1272.3 2130.9 1273.3 2142.0 1273.6"/>
</g>
<g id="axes">
<path class="ax" d="M386 50V1409"/>
<path class="ax" d="M359 1378H2142.5"/>
<path class="ax" d="M359 52.0H386M359 243.5H386M359 432.0H386M359 623.0H386M359 811.0H386M359 1003.0H386M359 1191.0H386"/>
<path class="ax" d="M736.5 1353V1409M1088.0 1353V1409M1438.5 1353V1409M1789.5 1353V1409M2140.5 1353V1409M561.0 1361V1401M912.0 1361V1401M1263.0 1361V1401M1614.0 1361V1401M1965.0 1361V1401"/>
</g>
<g id="arrows">
<path class="dl" stroke-dashoffset="0.0" d="M1331.0 299.5L445.8 356.4"/>
<path class="ah" d="M421.4 358.0L446.6 368.2L445.1 344.7Z"/>
<path class="dl" stroke-dashoffset="0.0" d="M1335.0 418.5L429.3 474.5"/>
<path class="ah" d="M404.8 476.0L430.0 486.2L428.5 462.8Z"/>
<path class="dl" stroke-dashoffset="0.0" d="M1322.5 537.0L416.4 620.7"/>
<path class="ah" d="M392.0 623.0L417.5 632.4L415.3 609.0Z"/>
<path class="dl" stroke-dashoffset="0.0" d="M1318.5 632.5L452.9 830.0"/>
<path class="ah" d="M429.0 835.5L455.5 841.5L450.3 818.6Z"/>
<path class="dl" stroke-dashoffset="0.0" d="M1315.0 751.5L512.2 1127.6"/>
<path class="ah" d="M490.0 1138.0L517.2 1138.2L507.2 1117.0Z"/>
<path class="dl" stroke-dashoffset="0.0" d="M1317.6 861.5L616.3 1224.2"/>
<path class="ah" d="M594.5 1235.5L621.7 1234.7L610.9 1213.8Z"/>
<path class="dl" stroke-dashoffset="0.0" d="M1326.0 980.0L622.1 1344.1"/>
<path class="ah" d="M600.3 1355.4L627.5 1354.6L616.7 1333.7Z"/>
</g>
<g id="ylabels">
<text class="tick" transform="translate(0 73.60) scale(1.0800 1)" x="163.11 200.75 219.87 254.14" y="0.00 0.00 0.00 0.00"><tspan style="font-size:65.5px">0.35</tspan></text>
<text class="tick" transform="translate(0 261.40) scale(1.0800 1)" x="163.11 200.75 219.87 253.85" y="0.00 0.00 0.00 0.00"><tspan style="font-size:65.5px">0.30</tspan></text>
<text class="tick" transform="translate(0 453.60) scale(1.0800 1)" x="163.11 200.75 220.54 254.14" y="0.00 0.00 0.00 0.00"><tspan style="font-size:65.5px">0.25</tspan></text>
<text class="tick" transform="translate(0 641.10) scale(1.0800 1)" x="163.11 200.75 220.54 253.85" y="0.00 0.00 0.00 0.00"><tspan style="font-size:65.5px">0.20</tspan></text>
<text class="tick" transform="translate(0 833.10) scale(1.0800 1)" x="163.11 200.75 219.25 254.14" y="0.00 0.00 0.00 0.00"><tspan style="font-size:65.5px">0.15</tspan></text>
<text class="tick" transform="translate(0 1020.60) scale(1.0800 1)" x="163.11 200.75 219.25 253.85" y="0.00 0.00 0.00 0.00"><tspan style="font-size:65.5px">0.10</tspan></text>
<text class="tick" transform="translate(0 1213.10) scale(1.0800 1)" x="163.11 200.75 219.78 254.14" y="0.00 0.00 0.00 0.00"><tspan style="font-size:65.5px">0.05</tspan></text>
<text class="tick" transform="translate(0 1400.60) scale(1.0800 1)" x="163.11 200.75 219.78 253.85" y="0.00 0.00 0.00 0.00"><tspan style="font-size:65.5px">0.00</tspan></text>
</g>
<g id="xlabels">
<text class="tick" transform="translate(0 1502.20) scale(1.0800 1)" x="340.15" y="0.00"><tspan style="font-size:65.5px">0</tspan></text>
<text class="tick" transform="translate(0 1502.20) scale(1.0800 1)" x="665.64" y="0.00"><tspan style="font-size:65.5px">1</tspan></text>
<text class="tick" transform="translate(0 1502.20) scale(1.0800 1)" x="990.82" y="0.00"><tspan style="font-size:65.5px">2</tspan></text>
<text class="tick" transform="translate(0 1502.20) scale(1.0800 1)" x="1315.61" y="0.00"><tspan style="font-size:65.5px">3</tspan></text>
<text class="tick" transform="translate(0 1502.20) scale(1.0800 1)" x="1640.52" y="0.00"><tspan style="font-size:65.5px">4</tspan></text>
<text class="tick" transform="translate(0 1502.20) scale(1.0800 1)" x="1965.06" y="0.00"><tspan style="font-size:65.5px">5</tspan></text>
</g>
<g id="legend">
<text class="leg" transform="translate(0 310.30) scale(1.0800 1)" x="1259.11 1310.05 1351.60 1394.31 1438.09 1461.73 1530.63" y="0.00 0.00 0.00 0.00 0.00 0.00 0.00"><tspan style="font-size:76.5px">−450 mV</tspan></text>
<text class="leg" transform="translate(0 424.70) scale(1.0800 1)" x="1259.11 1310.05 1351.26 1394.31 1438.09 1461.73 1530.63" y="0.00 0.00 0.00 0.00 0.00 0.00 0.00"><tspan style="font-size:76.5px">−400 mV</tspan></text>
<text class="leg" transform="translate(0 539.40) scale(1.0800 1)" x="1259.11 1309.94 1351.35 1394.65 1438.43 1461.73 1530.63" y="0.00 0.00 0.00 0.00 0.00 0.00 0.00"><tspan style="font-size:76.5px">−375 mV</tspan></text>
<text class="leg" transform="translate(0 649.40) scale(1.0800 1)" x="1259.11 1309.94 1351.60 1394.31 1438.09 1461.73 1530.63" y="0.00 0.00 0.00 0.00 0.00 0.00 0.00"><tspan style="font-size:76.5px">−350 mV</tspan></text>
<text class="leg" transform="translate(0 763.40) scale(1.0800 1)" x="1259.11 1309.94 1351.26 1394.31 1438.09 1461.73 1530.63" y="0.00 0.00 0.00 0.00 0.00 0.00 0.00"><tspan style="font-size:76.5px">−300 mV</tspan></text>
<text class="leg" transform="translate(0 873.80) scale(1.0800 1)" x="1259.11 1310.72 1351.60 1394.31 1438.09 1461.73 1530.63" y="0.00 0.00 0.00 0.00 0.00 0.00 0.00"><tspan style="font-size:76.5px">−250 mV</tspan></text>
<text class="leg" transform="translate(0 988.10) scale(1.0800 1)" x="1259.11 1310.72 1351.37 1394.65 1438.43 1461.73 1530.63" y="0.00 0.00 0.00 0.00 0.00 0.00 0.00"><tspan style="font-size:76.5px">−235 mV</tspan></text>
</g>
<g id="titles">
<text class="ttl" transform="translate(0 1580.30) scale(1.0500 1)" x="1120.59 1153.37 1181.60 1220.11 1252.75" y="0.00 0.00 4.80 0.00 0.00"><tspan style="font-size:93px;font-style:italic;stroke:#000;stroke-width:0.5px">t</tspan><tspan style="font-size:93px;font-style:italic"> </tspan><tspan style="font-size:127px;stroke:#fff;stroke-width:2.4px" rotate="3.5">/</tspan><tspan style="font-size:93px;font-style:italic"> </tspan><tspan style="font-size:93px;font-style:italic;stroke:#000;stroke-width:0.5px">s</tspan></text>
<text class="ttl" transform="translate(102.20 0) rotate(-90) translate(0 0.00) scale(1.1200 1)" x="-824.32 -800.07 -778.41 -739.90 -712.59 -626.18 -566.50 -539.96 -495.18 -420.57 -378.99" y="0.00 0.00 4.80 0.00 0.00 0.00 0.00 0.00 0.00 -36.70 -36.70"><tspan style="font-size:97px;font-style:italic">j</tspan><tspan style="font-size:97px"> </tspan><tspan style="font-size:127px;stroke:#fff;stroke-width:2.4px" rotate="3.5">/</tspan><tspan style="font-size:97px"> mA cm</tspan><tspan style="font-size:64px;stroke:#000;stroke-width:1px">−2</tspan></text>
</g>
</svg></body></html>
